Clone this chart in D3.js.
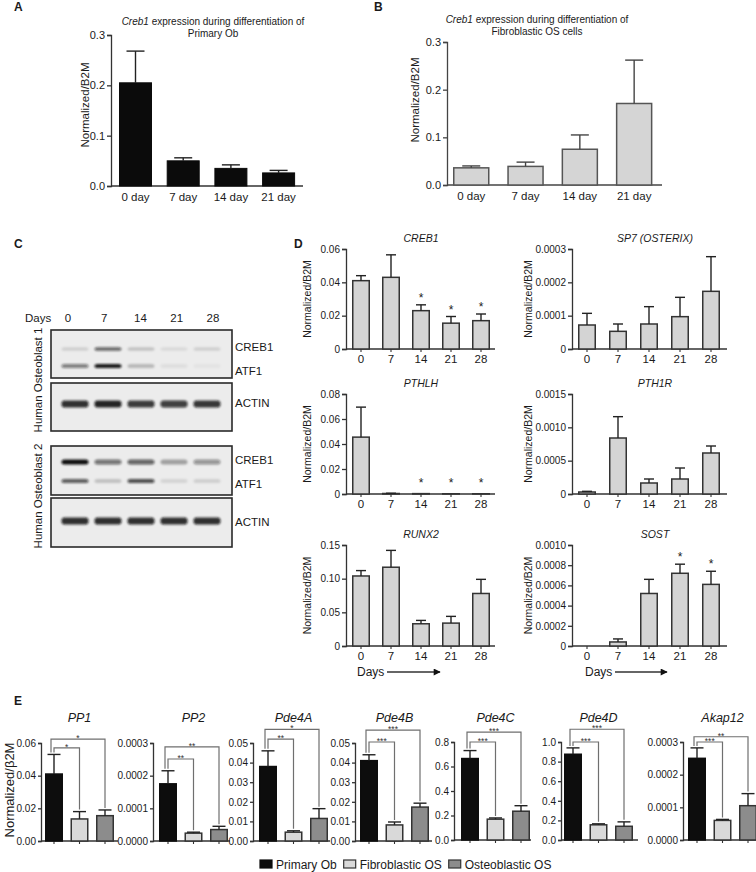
<!DOCTYPE html>
<html><head><meta charset="utf-8">
<script src="https://cdn.jsdelivr.net/npm/d3@7"></script>
<style>
body{margin:0;background:#fff;}
svg{display:block;}
</style></head><body>
<svg id="fig" width="756" height="872"></svg>
<script>
// ---------------- DATA ----------------
// Panels A / B
const daysAB = ["0 day", "7 day", "14 day", "21 day"];
const creb1PrimaryOb = [0.205, 0.050, 0.035, 0.026];
const creb1PrimaryObSem = [0.063, 0.006, 0.007, 0.005];
const creb1FibroOS = [0.036, 0.039, 0.075, 0.171];
const creb1FibroOSSem = [0.004, 0.009, 0.030, 0.091];
const ticksAB = [0, 0.1, 0.2, 0.3];

// Panel C (western blot band intensities, 0..1)
const blotLanes = ["0", "7", "14", "21", "28"];
const blot1Creb1 = [0.12, 0.62, 0.18, 0.08, 0.12];
const blot1Atf1 = [0.50, 0.95, 0.22, 0.06, 0.04];
const blot1Actin = [0.85, 0.90, 0.80, 0.78, 0.82];
const blot2Creb1 = [1.00, 0.55, 0.62, 0.32, 0.40];
const blot2Atf1 = [0.65, 0.18, 0.72, 0.10, 0.12];
const blot2Actin = [0.85, 0.85, 0.85, 0.85, 0.85];

// Panel D
const daysD = ["0", "7", "14", "21", "28"];
const dCreb1 = [0.041, 0.043, 0.023, 0.0155, 0.017];
const dCreb1Sem = [0.003, 0.0135, 0.0035, 0.004, 0.004];
const dCreb1Stars = ["", "", "*", "*", "*"];
const dCreb1Ticks = [0, 0.02, 0.04, 0.06];
const dSp7 = [0.000072, 0.000053, 0.000075, 0.000097, 0.000173];
const dSp7Sem = [0.000035, 0.000022, 0.000052, 0.000058, 0.000104];
const dSp7Ticks = [0, 0.0001, 0.0002, 0.0003];
const dPthlh = [0.0455, 0.0004, 0.0003, 0.0002, 0.0002];
const dPthlhSem = [0.024, 0.0002, 0, 0, 0];
const dPthlhStars = ["", "", "*", "*", "*"];
const dPthlhTicks = [0, 0.02, 0.04, 0.06, 0.08];
const dPth1r = [0.00003, 0.00084, 0.000165, 0.000225, 0.000615];
const dPth1rSem = [0.00001, 0.00032, 0.00006, 0.000165, 0.000105];
const dPth1rTicks = [0, 0.0005, 0.0010, 0.0015];
const dRunx2 = [0.104, 0.117, 0.033, 0.034, 0.078];
const dRunx2Sem = [0.008, 0.025, 0.005, 0.010, 0.021];
const dRunx2Ticks = [0, 0.05, 0.10, 0.15];
const dSost = [0, 0.00004, 0.00052, 0.00072, 0.00061];
const dSostSem = [0, 0.00003, 0.00014, 0.00009, 0.00013];
const dSostStars = ["", "", "", "*", "*"];
const dSostTicks = [0, 0.0002, 0.0004, 0.0006, 0.0008, 0.0010];

// Panel E
const eGroups = ["Primary Ob", "Fibroblastic OS", "Osteoblastic OS"];
const eGenes = ["PP1", "PP2", "Pde4A", "Pde4B", "Pde4C", "Pde4D", "Akap12"];
const eMeans = [
  [0.041, 0.0135, 0.0155],
  [0.000175, 0.000024, 0.000035],
  [0.038, 0.0045, 0.0115],
  [0.041, 0.0082, 0.0173],
  [0.665, 0.170, 0.235],
  [0.875, 0.155, 0.140],
  [0.00025, 0.00006, 0.000105]
];
const eSems = [
  [0.012, 0.0045, 0.0035],
  [0.00004, 0.000003, 0.00001],
  [0.008, 0.0007, 0.005],
  [0.003, 0.0015, 0.002],
  [0.065, 0.010, 0.045],
  [0.065, 0.010, 0.045],
  [0.000032, 0.000003, 0.000037]
];
const eTicks = [
  [0, 0.02, 0.04, 0.06],
  [0, 0.0001, 0.0002, 0.0003],
  [0, 0.01, 0.02, 0.03, 0.04, 0.05],
  [0, 0.01, 0.02, 0.03, 0.04, 0.05],
  [0, 0.2, 0.4, 0.6, 0.8],
  [0, 0.2, 0.4, 0.6, 0.8, 1.0],
  [0, 0.0001, 0.0002, 0.0003]
];
const eDecimals = [2, 4, 2, 2, 1, 1, 4];
const eStarsInner = ["*", "**", "**", "***", "***", "***", "***"];
const eStarsOuter = ["*", "**", "*", "***", "***", "***", "**"];
const eBracketInner = [0.057, 0.000251, 0.052, 0.0505, 0.80, 1.00, 0.000300];
const eBracketOuter = [0.0624, 0.000288, 0.057, 0.0566, 0.88, 1.13, 0.000316];

// ---------------- DRAWING ----------------
const FONT = '"Liberation Sans", Arial, Helvetica, sans-serif';
const svg = d3.select("#fig").attr("font-family", FONT);
const TXT = "#1a1a1a";

function drawBars(g, o) {
  const n = o.cats.length;
  const x = d3.scaleBand().domain(o.cats)
    .range([o.x0 + o.barStart, o.x0 + o.barStart + n * o.step - (o.step - o.bw)])
    .paddingInner(1 - o.bw / o.step).paddingOuter(0);
  const y = d3.scaleLinear().domain([0, o.ymax]).range([o.yb, o.yt]);
  const ya = g.append("g").attr("transform", `translate(${o.x0},0)`)
    .call(d3.axisLeft(y).tickValues(o.ticks).tickFormat(o.fmt).tickSizeOuter(0).tickSize(o.tickLen || 4).tickPadding(2));
  ya.select(".domain").attr("stroke", o.axisColor || "#333").attr("stroke-width", o.axisW || 1.3);
  ya.selectAll(".tick line").attr("stroke", o.axisColor || "#333").attr("stroke-width", o.axisW || 1.3);
  ya.selectAll(".tick text").attr("font-size", o.tickFont).attr("font-family", FONT).attr("fill", TXT);
  // x axis line
  g.append("line").attr("x1", o.x0).attr("x2", o.x0 + o.axisLen).attr("y1", y(0)).attr("y2", y(0))
    .attr("stroke", o.axisColor || "#333").attr("stroke-width", o.axisW || 1.3);
  if (o.xTicks) {
    const xa = g.append("g").attr("transform", `translate(0,${y(0)})`)
      .call(d3.axisBottom(x).tickSize(o.xTickLen || 4).tickSizeOuter(0).tickFormat(o.xLabels ? (d => d) : () => "").tickPadding(3));
    xa.select(".domain").remove();
    xa.selectAll(".tick line").attr("stroke", o.axisColor || "#333").attr("stroke-width", 1.1);
    xa.selectAll(".tick text").attr("font-size", o.xFont).attr("font-family", FONT).attr("fill", TXT);
  } else if (o.xLabels) {
    g.selectAll(".xl").data(o.cats).enter().append("text")
      .attr("x", d => x(d) + x.bandwidth() / 2).attr("y", y(0) + o.xLabelDy)
      .attr("text-anchor", "middle").attr("font-size", o.xFont).attr("fill", TXT).text(d => d);
  }
  // bars
  const data = o.cats.map((c, i) => ({ c, i, m: o.means[i], s: o.sems[i] }));
  g.selectAll(".bar").data(data).enter().append("rect")
    .attr("x", d => x(d.c) + (o.strokeW || 0) / 2)
    .attr("width", x.bandwidth() - (o.strokeW || 0))
    .attr("y", d => y(d.m))
    .attr("height", d => Math.max(0, y(0) - y(d.m)))
    .attr("fill", d => o.fills[d.i]).attr("stroke", d => o.strokes[d.i]).attr("stroke-width", o.strokeW || 0);
  // error bars (upper only)
  const cw = o.capW;
  data.filter(d => d.s > 0).forEach(d => {
    const cx = x(d.c) + x.bandwidth() / 2;
    g.append("line").attr("x1", cx).attr("x2", cx).attr("y1", y(d.m)).attr("y2", y(d.m + d.s))
      .attr("stroke", o.errColor || "#222").attr("stroke-width", 1.4);
    g.append("line").attr("x1", cx - cw / 2).attr("x2", cx + cw / 2).attr("y1", y(d.m + d.s)).attr("y2", y(d.m + d.s))
      .attr("stroke", o.errColor || "#222").attr("stroke-width", 1.4);
  });
  if (o.stars) {
    data.forEach(d => {
      if (!o.stars[d.i]) return;
      g.append("text").attr("x", x(d.c) + x.bandwidth() / 2).attr("y", Math.min(y(d.m + d.s), y(0) - 4) - 3)
        .attr("text-anchor", "middle").attr("font-size", 12).attr("fill", TXT).text(o.stars[d.i]);
    });
  }
  return { x, y };
}

function label(txt, x, y, size, opts = {}) {
  const t = svg.append("text").attr("x", x).attr("y", y).attr("font-size", size).attr("fill", TXT)
    .attr("text-anchor", opts.anchor || "start");
  if (opts.bold) t.attr("font-weight", "bold");
  if (opts.italic) t.attr("font-style", "italic");
  if (opts.rotate) t.attr("transform", `rotate(-90,${x},${y})`).attr("dominant-baseline", "central");
  t.text(txt);
  return t;
}

// Panel letters
label("A", 14, 11, 12, { bold: true });
label("B", 374, 11, 12, { bold: true });
label("C", 14, 248, 12, { bold: true });
label("D", 294, 248, 12, { bold: true });
label("E", 14, 705, 12, { bold: true });

// ---------- Panel A ----------
{
  const g = svg.append("g");
  drawBars(g, {
    cats: daysAB, means: creb1PrimaryOb, sems: creb1PrimaryObSem, ymax: 0.3, ticks: ticksAB,
    fmt: d3.format(".1f"), x0: 111, yb: 186, yt: 35, barStart: 8, step: 47.7, bw: 33, axisLen: 192,
    fills: ["#0b0b0b", "#0b0b0b", "#0b0b0b", "#0b0b0b"], strokes: ["#0b0b0b", "#0b0b0b", "#0b0b0b", "#0b0b0b"], strokeW: 1,
    capW: 18, tickFont: 11, xLabels: true, xFont: 11.5, xLabelDy: 15, tickLen: 4
  });
  const t = svg.append("text").attr("x", 213).attr("y", 25).attr("text-anchor", "middle").attr("font-size", 10).attr("fill", TXT);
  t.append("tspan").attr("font-style", "italic").text("Creb1");
  t.append("tspan").text(" expression during differentiation of");
  label("Primary Ob", 213, 37, 10, { anchor: "middle" });
  label("Normalized/B2M", 85, 105, 11.5, { anchor: "middle", rotate: true });
}

// ---------- Panel B ----------
{
  const g = svg.append("g");
  drawBars(g, {
    cats: daysAB, means: creb1FibroOS, sems: creb1FibroOSSem, ymax: 0.3, ticks: ticksAB,
    fmt: d3.format(".1f"), x0: 447, yb: 185, yt: 42, barStart: 6, step: 54.3, bw: 36.5, axisLen: 215,
    fills: ["#d5d5d5", "#d5d5d5", "#d5d5d5", "#d5d5d5"], strokes: ["#555", "#555", "#555", "#555"], strokeW: 1.5,
    capW: 18, tickFont: 11, xLabels: true, xFont: 11.5, xLabelDy: 15, axisColor: "#444", errColor: "#444"
  });
  const t = svg.append("text").attr("x", 537).attr("y", 23).attr("text-anchor", "middle").attr("font-size", 10).attr("fill", TXT);
  t.append("tspan").attr("font-style", "italic").text("Creb1");
  t.append("tspan").text(" expression during differentiation of");
  label("Fibroblastic OS cells", 537, 35, 10, { anchor: "middle" });
  label("Normalized/B2M", 415, 100, 11.5, { anchor: "middle", rotate: true });
}

// ---------- Panel C (western blot) ----------
{
  const defs = svg.append("defs");
  defs.append("filter").attr("id", "bandBlur").attr("x", "-30%").attr("y", "-100%").attr("width", "160%").attr("height", "300%")
    .append("feGaussianBlur").attr("stdDeviation", "1.3 1.0");
  const lx = d3.scalePoint().domain(blotLanes).range([75, 207]);
  const lblX = d3.scalePoint().domain(blotLanes).range([68, 213]);
  label("Days", 25, 322, 11.5);
  blotLanes.forEach(d => label(d, lblX(d), 322, 11.5, { anchor: "middle" }));
  const boxes = [
    { y: 330, h: 48, bands: [{ v: blot1Creb1, y: 349, h: 3.5 }, { v: blot1Atf1, y: 366, h: 4 }], labels: [["CREB1", 351], ["ATF1", 375]] },
    { y: 383, h: 48, bands: [{ v: blot1Actin, y: 404, h: 7 }], labels: [["ACTIN", 407]] },
    { y: 446, h: 49, bands: [{ v: blot2Creb1, y: 462, h: 5 }, { v: blot2Atf1, y: 481, h: 4 }], labels: [["CREB1", 464], ["ATF1", 488]] },
    { y: 498, h: 49, bands: [{ v: blot2Actin, y: 521, h: 7 }], labels: [["ACTIN", 526]] }
  ];
  boxes.forEach(b => {
    svg.append("rect").attr("x", 51).attr("y", b.y).attr("width", 181).attr("height", b.h)
      .attr("fill", "#ececec").attr("stroke", "#2a2a2a").attr("stroke-width", 1.6);
    const bg = svg.append("g").attr("filter", "url(#bandBlur)");
    b.bands.forEach(band => {
      blotLanes.forEach((d, i) => {
        const v = band.v[i];
        bg.append("rect").attr("x", lx(d) - 13.5).attr("y", band.y - band.h / 2).attr("width", 27).attr("height", band.h)
          .attr("rx", 3).attr("fill", "#111").attr("opacity", v);
      });
    });
    b.labels.forEach(l => label(l[0], 235, l[1], 11.5));
  });
  label("Human Osteoblast 1", 38, 380, 11.5, { anchor: "middle", rotate: true });
  label("Human Osteoblast 2", 38, 496, 11.5, { anchor: "middle", rotate: true });
}

// ---------- Panel D ----------
{
  const fmtD = (dec) => (v => v === 0 ? "0" : v.toFixed(dec));
  const cols = [{ x0: 346, start: 6, step: 30, axisLen: 149, ylab: 307, tx: 421 },
                { x0: 572, start: 6, step: 31, axisLen: 155, ylab: 528, tx: 655 }];
  const rows = [{ yt: 249, yb: 349 }, { yt: 394, yb: 494 }, { yt: 545, yb: 646 }];
  const charts = [
    { title: "CREB1", m: dCreb1, s: dCreb1Sem, st: dCreb1Stars, t: dCreb1Ticks, dec: 2, c: 0, r: 0 },
    { title: "SP7 (OSTERIX)", m: dSp7, s: dSp7Sem, st: null, t: dSp7Ticks, dec: 4, c: 1, r: 0 },
    { title: "PTHLH", m: dPthlh, s: dPthlhSem, st: dPthlhStars, t: dPthlhTicks, dec: 2, c: 0, r: 1 },
    { title: "PTH1R", m: dPth1r, s: dPth1rSem, st: null, t: dPth1rTicks, dec: 4, c: 1, r: 1 },
    { title: "RUNX2", m: dRunx2, s: dRunx2Sem, st: null, t: dRunx2Ticks, dec: 2, c: 0, r: 2 },
    { title: "SOST", m: dSost, s: dSostSem, st: dSostStars, t: dSostTicks, dec: 4, c: 1, r: 2 }
  ];
  charts.forEach(ch => {
    const col = cols[ch.c], row = rows[ch.r];
    const g = svg.append("g");
    drawBars(g, {
      cats: daysD, means: ch.m, sems: ch.s, ymax: ch.t[ch.t.length - 1], ticks: ch.t, fmt: fmtD(ch.dec),
      x0: col.x0, yb: row.yb, yt: row.yt, barStart: col.start, step: col.step, bw: 18, axisLen: col.axisLen,
      fills: Array(5).fill("#d4d4d4"), strokes: Array(5).fill("#333"), strokeW: 1.5,
      capW: 10, tickFont: 10, xTicks: true, xLabels: true, xFont: 11.5, xTickLen: 3, stars: ch.st, tickLen: 4
    });
    label(ch.title, col.tx, row.yt - 7, 10.5, { anchor: "middle", italic: true });
    label("Normalized/B2M", col.ylab, (row.yt + row.yb) / 2, 10.5, { anchor: "middle", rotate: true });
  });
  // Days arrows
  const arrows = [{ tx: 357, x1: 387, x2: 440 }, { tx: 585, x1: 615, x2: 667 }];
  svg.append("defs").append("marker").attr("id", "arrowHead").attr("viewBox", "0 0 10 10").attr("refX", 9).attr("refY", 5)
    .attr("markerWidth", 9).attr("markerHeight", 7).attr("markerUnits", "userSpaceOnUse").attr("orient", "auto")
    .append("path").attr("d", "M0,0 L10,5 L0,10 z").attr("fill", "#111");
  arrows.forEach(a => {
    label("Days", a.tx, 676, 12);
    svg.append("line").attr("x1", a.x1).attr("x2", a.x2).attr("y1", 672).attr("y2", 672)
      .attr("stroke", "#333").attr("stroke-width", 1.5).attr("marker-end", "url(#arrowHead)");
  });
}

// ---------- Panel E ----------
{
  const axisX = [41, 153, 253, 355, 454, 561, 683];
  const offs = [4, 6, 6, 5, 7, 3, 5];
  const fills = ["#0d0d0d", "#d9d9d9", "#8c8c8c"];
  const strokes = ["#0d0d0d", "#333", "#333"];
  eGenes.forEach((gene, k) => {
    const g = svg.append("g");
    const yb = k < 4 ? 841 : 840, yt = k < 4 ? 743 : 742;
    const ticks = eTicks[k];
    const { x, y } = drawBars(g, {
      cats: eGroups, means: eMeans[k], sems: eSems[k], ymax: ticks[ticks.length - 1], ticks,
      fmt: d3.format(`.${eDecimals[k]}f`), x0: axisX[k], yb, yt, barStart: offs[k], step: 25.5, bw: 18, axisLen: 77,
      fills, strokes, strokeW: 1.5, capW: 13, tickFont: 10, xTicks: true, xLabels: false, xTickLen: 3, tickLen: 3,
      axisColor: "#333"
    });
    const cx = d => x(eGroups[d]) + x.bandwidth() / 2;
    const top = d => y(eMeans[k][d] + eSems[k][d]);
    label(gene, cx(1), 722, 12.5, { anchor: "middle", italic: true });
    // brackets
    const bk = [
      { lv: eBracketInner[k], a: 0, b: 1, s: eStarsInner[k], dx: 0 },
      { lv: eBracketOuter[k], a: 0, b: 2, s: eStarsOuter[k], dx: -3 }
    ];
    bk.forEach(br => {
      const by = y(br.lv);
      const xa = cx(br.a) + br.dx, xb = cx(br.b);
      const leftEnd = Math.max(by + 4, top(br.a) - 2);
      g.append("path")
        .attr("d", `M${xa},${leftEnd} V${by} H${xb} V${top(br.b) - 2}`)
        .attr("fill", "none").attr("stroke", "#6f6f6f").attr("stroke-width", 1.2);
      g.append("text").attr("x", (xa + xb) / 2).attr("y", by + 2).attr("text-anchor", "middle")
        .attr("font-size", 8.5).attr("fill", "#333").text(br.s);
    });
  });
  label("Normalized/β2M", 9, 790, 13, { anchor: "middle", rotate: true });
  // legend
  let lxp = 260;
  eGroups.forEach((grp, i) => {
    svg.append("rect").attr("x", lxp).attr("y", 860).attr("width", 12).attr("height", 8)
      .attr("fill", fills[i]).attr("stroke", strokes[i]).attr("stroke-width", 1.2);
    const t = label(grp, lxp + 16, 869, 12);
    lxp += 16 + t.node().getComputedTextLength() + 7;
  });
}
</script>
</body></html>
